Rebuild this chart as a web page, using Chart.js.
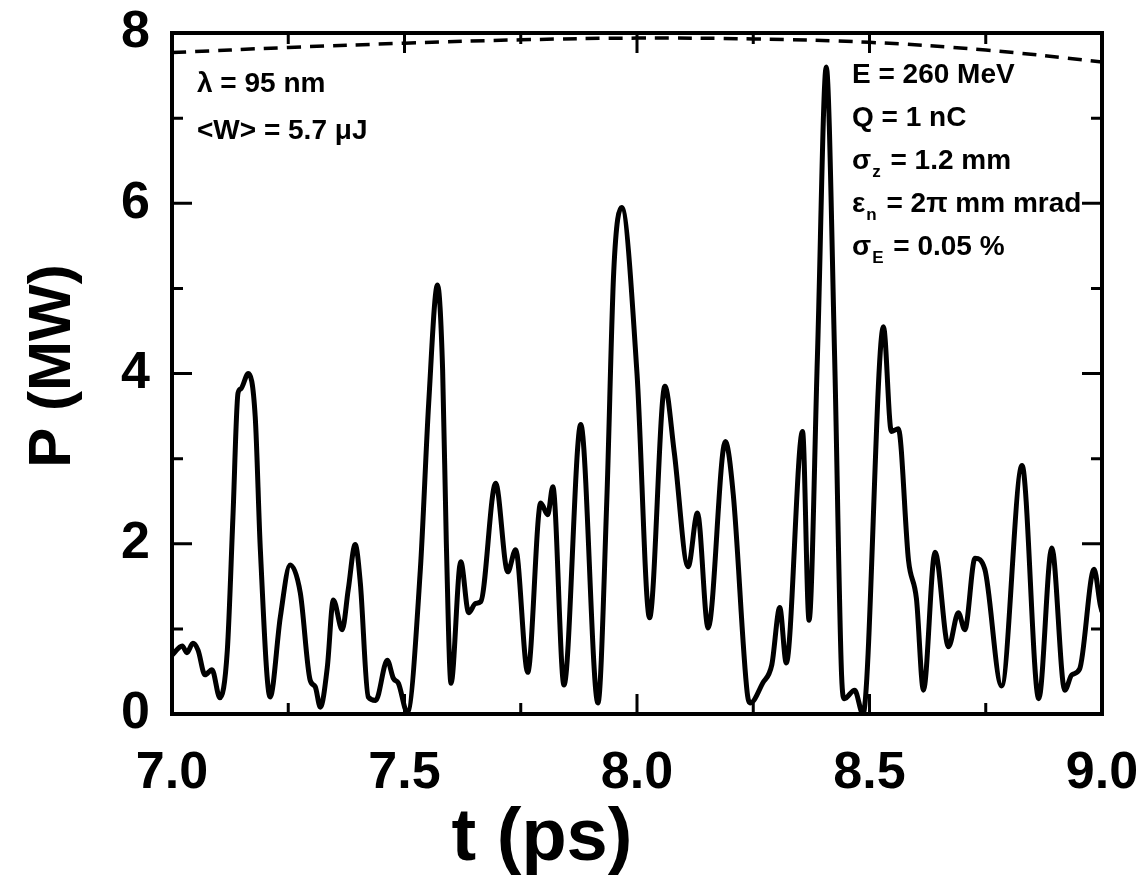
<!DOCTYPE html>
<html>
<head>
<meta charset="utf-8">
<script src="https://cdn.jsdelivr.net/npm/chart.js@4.4.1/dist/chart.umd.min.js"></script>
<style>
  html, body { margin: 0; padding: 0; background: #fff; }
  #wrap { width: 1147px; height: 880px; }
</style>
</head>
<body>
<div id="wrap"><canvas id="powerChart" width="1147" height="880"></canvas></div>
<script>
// time axis (ps) and power (MW)
const timePs = [7.000, 7.022, 7.032, 7.045, 7.056, 7.071, 7.086, 7.103, 7.119, 7.131,
  7.142, 7.148, 7.164, 7.179, 7.190, 7.211, 7.233, 7.254, 7.276, 7.297,
  7.308, 7.319, 7.334, 7.347, 7.366, 7.379, 7.394, 7.405, 7.422, 7.438,
  7.463, 7.476, 7.487, 7.506, 7.534, 7.552, 7.571, 7.582, 7.590, 7.600,
  7.621, 7.638, 7.653, 7.664, 7.696, 7.722, 7.739, 7.765, 7.793, 7.808,
  7.819, 7.843, 7.879, 7.916, 7.935, 7.950, 7.967, 8.000, 8.027, 8.060,
  8.080, 8.110, 8.130, 8.153, 8.190, 8.207, 8.237, 8.244, 8.270, 8.290,
  8.307, 8.321, 8.356, 8.370, 8.388, 8.407, 8.425, 8.440, 8.446, 8.468,
  8.486, 8.530, 8.547, 8.562, 8.584, 8.601, 8.616, 8.641, 8.670, 8.691,
  8.705, 8.727, 8.748, 8.784, 8.828, 8.864, 8.892, 8.920, 8.935, 8.952,
  8.983, 8.996, 9.000];
const powerMW = [0.69, 0.80, 0.72, 0.83, 0.75, 0.46, 0.52, 0.19, 0.75, 2.31,
  3.77, 3.82, 4.00, 3.49, 1.93, 0.20, 1.14, 1.75, 1.42, 0.40,
  0.32, 0.08, 0.55, 1.34, 0.99, 1.46, 1.99, 1.54, 0.20, 0.16,
  0.63, 0.42, 0.36, 0.02, 1.69, 3.65, 5.04, 4.04, 2.00, 0.36,
  1.79, 1.19, 1.30, 1.32, 2.71, 1.67, 1.93, 0.49, 2.48, 2.34,
  2.67, 0.34, 3.40, 0.13, 2.50, 5.20, 5.95, 4.00, 1.13, 3.85,
  3.08, 1.73, 2.36, 1.01, 3.20, 2.58, 0.25, 0.13, 0.36, 0.58,
  1.25, 0.60, 3.32, 1.10, 4.20, 7.60, 4.20, 0.45, 0.18, 0.28,
  0.00, 4.55, 3.32, 3.35, 1.80, 1.35, 0.28, 1.90, 0.79, 1.19,
  0.99, 1.83, 1.70, 0.33, 2.92, 0.18, 1.95, 0.28, 0.46, 0.53,
  1.70, 1.29, 1.20];

// dashed envelope near the top
const envT = [7.0, 7.25, 7.5, 7.75, 8.0, 8.25, 8.5, 8.75, 9.0];
const envP = [7.77, 7.83, 7.88, 7.92, 7.94, 7.93, 7.89, 7.80, 7.66];

const xTicks = [7.0, 7.5, 8.0, 8.5, 9.0];
const yTicks = [0, 2, 4, 6, 8];

const leftNotes = [["λ = 95 nm"], ["<W> = 5.7 μJ"]];
const rightNotes = [
  ["E = 260 MeV"],
  ["Q = 1 nC"],
  ["σ", "z", " = 1.2 mm"],
  ["ε", "n", " = 2π mm mrad"],
  ["σ", "E", " = 0.05 %"]
];

const FONT = "'Liberation Sans', Arial, Helvetica, sans-serif";

const curve = timePs.map((t, i) => ({ x: t, y: powerMW[i] }));
const envelope = envT.map((t, i) => ({ x: t, y: envP[i] }));

// frame, inward ticks, titles and notes
const decorPlugin = {
  id: 'decor',
  afterDatasetsDraw(chart) {
    const ctx = chart.ctx;
    const a = chart.chartArea;
    const xs = chart.scales.x, ys = chart.scales.y;
    ctx.save();
    ctx.strokeStyle = '#000';
    ctx.lineWidth = 4;
    ctx.strokeRect(a.left, a.top, a.right - a.left, a.bottom - a.top);

    ctx.lineWidth = 3;
    for (let v = 7.0; v <= 9.0001; v += 0.25) {
      const px = xs.getPixelForValue(v);
      const len = (Math.abs(v * 2 - Math.round(v * 2)) < 1e-6) ? 20 : 11;
      ctx.beginPath();
      ctx.moveTo(px, a.bottom); ctx.lineTo(px, a.bottom - len);
      ctx.moveTo(px, a.top); ctx.lineTo(px, a.top + len);
      ctx.stroke();
    }
    for (let v = 0; v <= 8; v += 1) {
      const py = ys.getPixelForValue(v);
      const len = (v % 2 === 0) ? 20 : 11;
      ctx.beginPath();
      ctx.moveTo(a.left, py); ctx.lineTo(a.left + len, py);
      ctx.moveTo(a.right, py); ctx.lineTo(a.right - len, py);
      ctx.stroke();
    }

    // axis titles
    ctx.fillStyle = '#000';
    ctx.font = 'bold 74px ' + FONT;
    ctx.textAlign = 'center';
    ctx.textBaseline = 'alphabetic';
    ctx.fillText('t (ps)', 542, 860);
    ctx.save();
    ctx.translate(70, 366);
    ctx.rotate(-Math.PI / 2);
    ctx.font = 'bold 60px ' + FONT;
    ctx.fillText('P (MW)', 0, 0);
    ctx.restore();

    // parameter notes
    ctx.textAlign = 'left';
    ctx.font = 'bold 28px ' + FONT;
    leftNotes.forEach((parts, i) => {
      ctx.fillText(parts[0], a.left + 25, a.top + 59 + i * 47);
    });
    rightNotes.forEach((parts, i) => {
      const y = a.top + 50 + i * 43;
      let x = a.left + 680;
      ctx.font = 'bold 28px ' + FONT;
      if (parts.length === 1) {
        ctx.fillText(parts[0], x, y);
      } else {
        ctx.fillText(parts[0], x, y);
        x += ctx.measureText(parts[0]).width + 1;
        ctx.font = 'bold 17px ' + FONT;
        ctx.fillText(parts[1], x, y + 8);
        x += ctx.measureText(parts[1]).width + 2;
        ctx.font = 'bold 28px ' + FONT;
        ctx.fillText(parts[2], x, y);
      }
    });
    ctx.restore();
  }
};

const config = {
  type: 'line',
  data: {
    datasets: [
      {
        label: 'P',
        data: curve,
        borderColor: '#000',
        borderWidth: 5,
        pointRadius: 0,
        cubicInterpolationMode: 'monotone',
        fill: false
      },
      {
        label: 'envelope',
        data: envelope,
        borderColor: '#000',
        borderWidth: 3.5,
        borderDash: [14, 9],
        pointRadius: 0,
        tension: 0.4,
        fill: false
      }
    ]
  },
  options: {
    responsive: false,
    animation: false,
    devicePixelRatio: 1,
    layout: { padding: { left: 0, right: 45, top: 33, bottom: 0 } },
    plugins: { legend: { display: false }, tooltip: { enabled: false } },
    scales: {
      x: {
        type: 'linear',
        min: 7.0,
        max: 9.0,
        afterFit(scale) {
          scale.height = 166;
          scale.paddingLeft = 0;
          scale.paddingRight = 0;
        },
        afterBuildTicks(scale) { scale.ticks = xTicks.map(v => ({ value: v })); },
        grid: { display: false, drawTicks: false },
        border: { display: false },
        ticks: {
          padding: 28,
          color: '#000',
          font: { family: FONT, size: 52, weight: 'bold' },
          callback: v => v.toFixed(1)
        }
      },
      y: {
        min: 0,
        max: 8,
        afterFit(scale) {
          scale.width = 172;
          scale.paddingTop = 0;
          scale.paddingBottom = 0;
        },
        afterBuildTicks(scale) { scale.ticks = yTicks.map(v => ({ value: v })); },
        grid: { display: false, drawTicks: false },
        border: { display: false },
        ticks: {
          padding: 22,
          color: '#000',
          font: { family: FONT, size: 52, weight: 'bold' }
        }
      }
    }
  },
  plugins: [decorPlugin]
};

new Chart(document.getElementById('powerChart'), config);
</script>
</body>
</html>
